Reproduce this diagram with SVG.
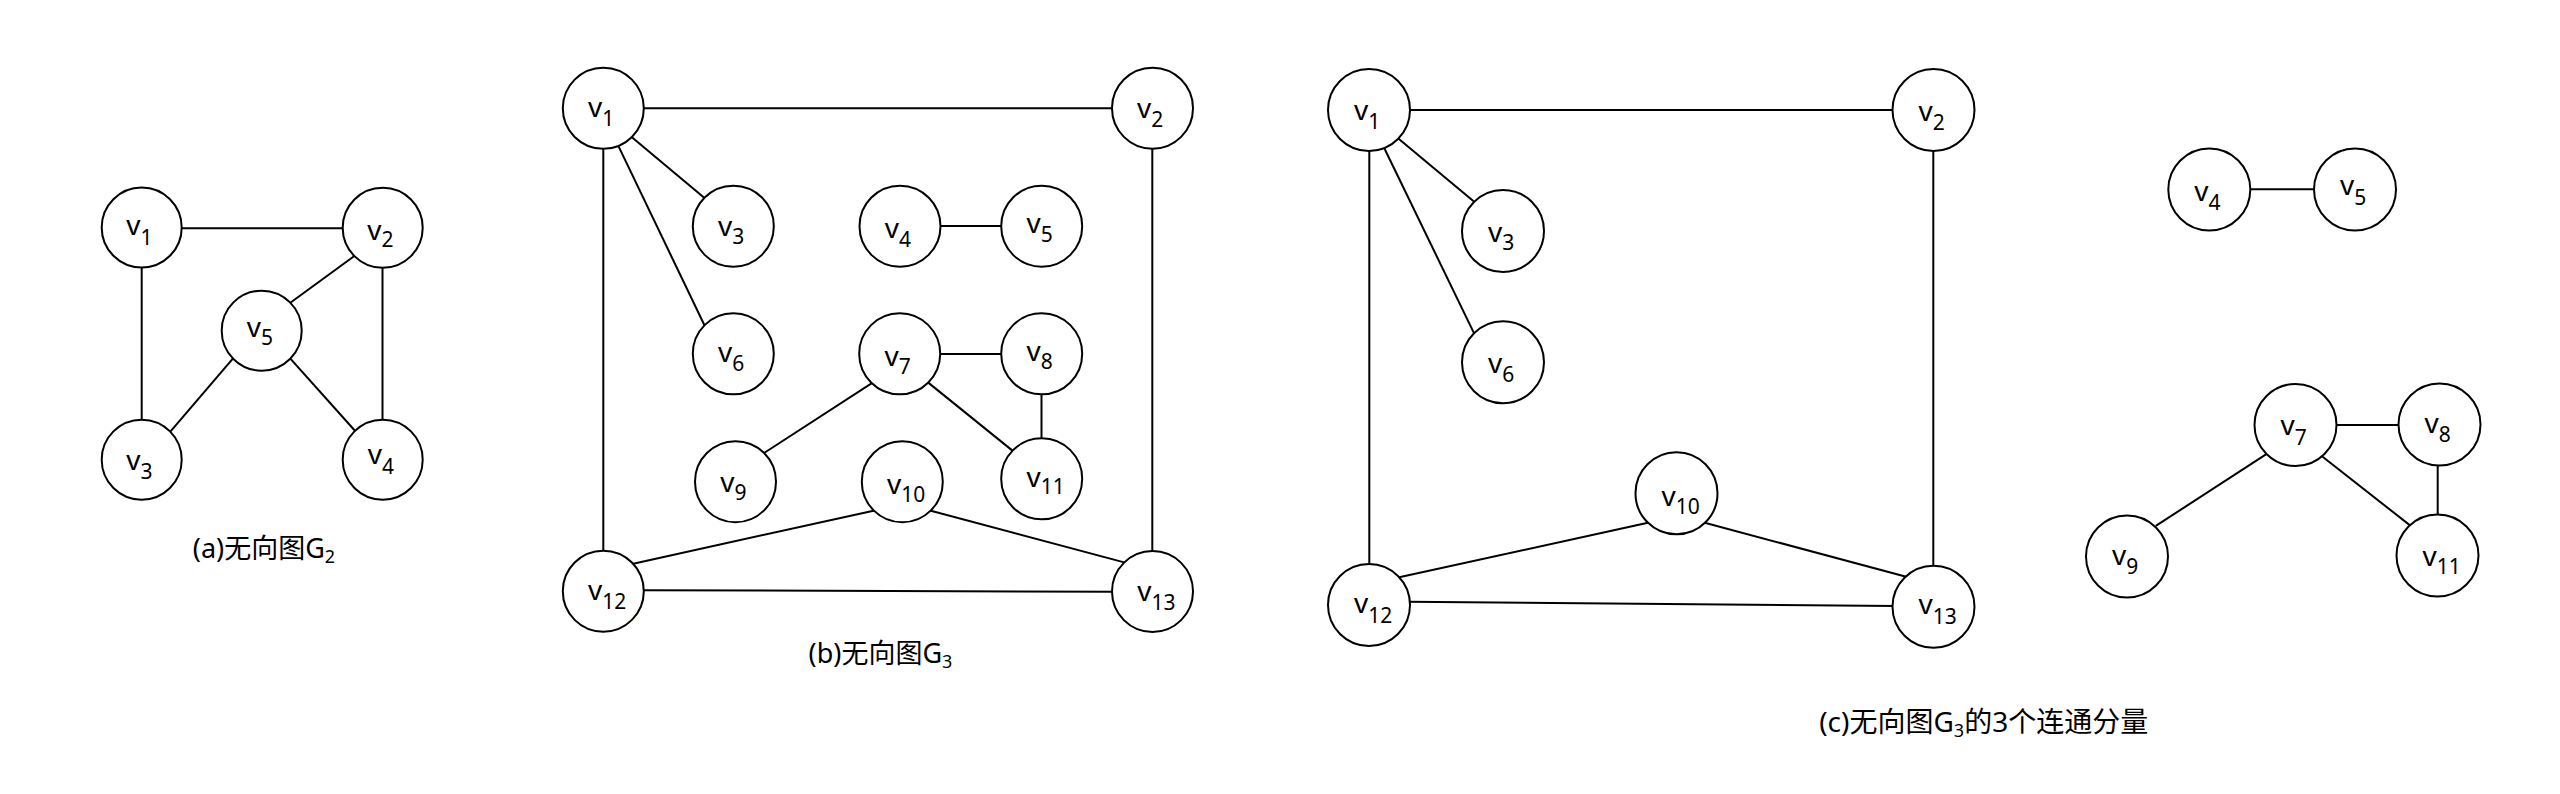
<svg xmlns="http://www.w3.org/2000/svg" width="2560" height="794" viewBox="0 0 2560 794">
<style>
.bg{fill:#fff}
.e{stroke:#000;stroke-width:2;fill:none;stroke-linecap:butt}
.n{fill:#fff;stroke:#000;stroke-width:2}
.lbl{font-family:"Noto Sans","Open Sans","Liberation Sans",sans-serif;font-size:28px;fill:#000}
.sub{font-size:21px}
.cap{font-family:"Noto Sans","Noto Sans CJK SC",sans-serif;font-size:27px;fill:#000}
.capsub{font-size:18px}
</style>
<rect class="bg" x="0" y="0" width="2560" height="794"/>
<g id="connectors">
<!-- graph a -->
<line class="e" x1="178" y1="228.3" x2="346" y2="228.3"/>
<line class="e" x1="141.7" y1="264" x2="141.7" y2="423"/>
<line class="e" x1="382.5" y1="264" x2="382.5" y2="423"/>
<line class="e" x1="355.7" y1="255" x2="289.3" y2="303.5"/>
<line class="e" x1="233.7" y1="357.7" x2="169.7" y2="432.3"/>
<line class="e" x1="289.7" y1="357.8" x2="357" y2="433"/>
<!-- graph b -->
<line class="e" x1="640" y1="108.3" x2="1116" y2="108.3"/>
<line class="e" x1="631" y1="136.4" x2="706.3" y2="199.6"/>
<line class="e" x1="618.7" y1="146.6" x2="705.3" y2="327"/>
<line class="e" x1="603.3" y1="146" x2="603.3" y2="554"/>
<line class="e" x1="1152.3" y1="146" x2="1152.3" y2="554"/>
<line class="e" x1="937" y1="226" x2="1004" y2="226"/>
<line class="e" x1="937" y1="354" x2="1004" y2="354"/>
<line class="e" x1="874.2" y1="381.7" x2="762.5" y2="454"/>
<line class="e" x1="926.7" y1="381.4" x2="1014" y2="451.9"/>
<line class="e" x1="1041.5" y1="391" x2="1041.5" y2="441"/>
<line class="e" x1="874.6" y1="510.4" x2="632.1" y2="564"/>
<line class="e" x1="929" y1="510.3" x2="1127" y2="563.1"/>
<line class="e" x1="640" y1="590.2" x2="1116" y2="591.8"/>
<!-- graph c -->
<line class="e" x1="1406" y1="110" x2="1896" y2="110"/>
<line class="e" x1="1397.7" y1="138.1" x2="1476.3" y2="203.6"/>
<line class="e" x1="1384.7" y1="149" x2="1474.6" y2="334.4"/>
<line class="e" x1="1369.3" y1="148" x2="1369.3" y2="568"/>
<line class="e" x1="1933.3" y1="148" x2="1933.3" y2="570"/>
<line class="e" x1="1647.9" y1="522.7" x2="1398.1" y2="577.6"/>
<line class="e" x1="1703.8" y1="522.5" x2="1906.2" y2="576.8"/>
<line class="e" x1="1407" y1="601.8" x2="1896" y2="606"/>
<line class="e" x1="2247" y1="189.3" x2="2317" y2="189.3"/>
<line class="e" x1="2334" y1="425" x2="2402" y2="425"/>
<line class="e" x1="2267.5" y1="453.4" x2="2155.8" y2="525.9"/>
<line class="e" x1="2321" y1="455.5" x2="2410.7" y2="525.9"/>
<line class="e" x1="2437.7" y1="463" x2="2437.7" y2="517"/>
</g>
<!-- graph a nodes -->
<g id="a-v1"><circle class="n" cx="141.7" cy="227.5" r="40"/><text class="lbl" x="126.2" y="235"><tspan>v</tspan><tspan class="sub" dy="10">1</tspan></text></g>
<g id="a-v2"><circle class="n" cx="382.7" cy="227.8" r="40"/><text class="lbl" x="367.2" y="239.8"><tspan>v</tspan><tspan class="sub" dy="7.5">2</tspan></text></g>
<g id="a-v5"><circle class="n" cx="261.7" cy="330.7" r="40"/><text class="lbl" x="246.7" y="337.4"><tspan>v</tspan><tspan class="sub" dy="7.6">5</tspan></text></g>
<g id="a-v3"><circle class="n" cx="141.7" cy="459.7" r="40"/><text class="lbl" x="126.2" y="470"><tspan>v</tspan><tspan class="sub" dy="9">3</tspan></text></g>
<g id="a-v4"><circle class="n" cx="382.7" cy="459.7" r="40"/><text class="lbl" x="367.7" y="464"><tspan>v</tspan><tspan class="sub" dy="10">4</tspan></text></g>
<!-- graph b nodes -->
<g id="b-v1"><circle class="n" cx="603.3" cy="108.3" r="40.5"/><text class="lbl" x="588" y="117.3"><tspan>v</tspan><tspan class="sub" dy="8.7">1</tspan></text></g>
<g id="b-v2"><circle class="n" cx="1152.5" cy="108.2" r="40.5"/><text class="lbl" x="1137" y="118.2"><tspan>v</tspan><tspan class="sub" dy="8.5">2</tspan></text></g>
<g id="b-v3"><circle class="n" cx="733.3" cy="226.2" r="40.5"/><text class="lbl" x="718" y="235.7"><tspan>v</tspan><tspan class="sub" dy="8.5">3</tspan></text></g>
<g id="b-v4"><circle class="n" cx="900" cy="226.2" r="40.5"/><text class="lbl" x="884.7" y="238.2"><tspan>v</tspan><tspan class="sub" dy="8.5">4</tspan></text></g>
<g id="b-v5"><circle class="n" cx="1041.7" cy="226.2" r="40.5"/><text class="lbl" x="1026.4" y="233.2"><tspan>v</tspan><tspan class="sub" dy="8.5">5</tspan></text></g>
<g id="b-v6"><circle class="n" cx="733.3" cy="353.8" r="40.5"/><text class="lbl" x="718" y="362.3"><tspan>v</tspan><tspan class="sub" dy="8.5">6</tspan></text></g>
<g id="b-v7"><circle class="n" cx="899.7" cy="353.8" r="40.5"/><text class="lbl" x="884.4" y="365.8"><tspan>v</tspan><tspan class="sub" dy="8.5">7</tspan></text></g>
<g id="b-v8"><circle class="n" cx="1041.7" cy="353.8" r="40.5"/><text class="lbl" x="1026.4" y="360.8"><tspan>v</tspan><tspan class="sub" dy="8.5">8</tspan></text></g>
<g id="b-v9"><circle class="n" cx="735.5" cy="481.7" r="40.5"/><text class="lbl" x="720.2" y="491.7"><tspan>v</tspan><tspan class="sub" dy="8">9</tspan></text></g>
<g id="b-v10"><circle class="n" cx="902.3" cy="481.7" r="40.5"/><text class="lbl" x="887" y="493.7"><tspan>v</tspan><tspan class="sub" dy="8.5">10</tspan></text></g>
<g id="b-v11"><circle class="n" cx="1041.7" cy="478.8" r="40.5"/><text class="lbl" x="1026.4" y="486.6"><tspan>v</tspan><tspan class="sub" dy="7.7">11</tspan></text></g>
<g id="b-v12"><circle class="n" cx="603.3" cy="591.2" r="40.5"/><text class="lbl" x="588" y="600.2"><tspan>v</tspan><tspan class="sub" dy="9">12</tspan></text></g>
<g id="b-v13"><circle class="n" cx="1152.5" cy="591.5" r="40.5"/><text class="lbl" x="1137.2" y="600.5"><tspan>v</tspan><tspan class="sub" dy="9">13</tspan></text></g>
<!-- graph c nodes -->
<g id="c-v1"><circle class="n" cx="1369" cy="110" r="41"/><text class="lbl" x="1354" y="120"><tspan>v</tspan><tspan class="sub" dy="9">1</tspan></text></g>
<g id="c-v2"><circle class="n" cx="1933.5" cy="110" r="41"/><text class="lbl" x="1918.5" y="121"><tspan>v</tspan><tspan class="sub" dy="9">2</tspan></text></g>
<g id="c-v3"><circle class="n" cx="1503" cy="231" r="41"/><text class="lbl" x="1488" y="241.7"><tspan>v</tspan><tspan class="sub" dy="8.3">3</tspan></text></g>
<g id="c-v6"><circle class="n" cx="1503" cy="362.2" r="41"/><text class="lbl" x="1488" y="373.2"><tspan>v</tspan><tspan class="sub" dy="8.5">6</tspan></text></g>
<g id="c-v10"><circle class="n" cx="1676.5" cy="493.3" r="41"/><text class="lbl" x="1661.5" y="505.8"><tspan>v</tspan><tspan class="sub" dy="8.5">10</tspan></text></g>
<g id="c-v12"><circle class="n" cx="1369" cy="605" r="41"/><text class="lbl" x="1354" y="613"><tspan>v</tspan><tspan class="sub" dy="10">12</tspan></text></g>
<g id="c-v13"><circle class="n" cx="1933.5" cy="606.7" r="41"/><text class="lbl" x="1918.5" y="614.4"><tspan>v</tspan><tspan class="sub" dy="10">13</tspan></text></g>
<g id="c-v4"><circle class="n" cx="2209.3" cy="189.5" r="41"/><text class="lbl" x="2194.3" y="201.2"><tspan>v</tspan><tspan class="sub" dy="9">4</tspan></text></g>
<g id="c-v5"><circle class="n" cx="2355" cy="189.5" r="41"/><text class="lbl" x="2340" y="194.5"><tspan>v</tspan><tspan class="sub" dy="10.7">5</tspan></text></g>
<g id="c-v7"><circle class="n" cx="2295.5" cy="425" r="41"/><text class="lbl" x="2280.5" y="435"><tspan>v</tspan><tspan class="sub" dy="10">7</tspan></text></g>
<g id="c-v8"><circle class="n" cx="2439.5" cy="424.5" r="41"/><text class="lbl" x="2424.5" y="432.5"><tspan>v</tspan><tspan class="sub" dy="9">8</tspan></text></g>
<g id="c-v9"><circle class="n" cx="2127" cy="556.5" r="41"/><text class="lbl" x="2112" y="564.8"><tspan>v</tspan><tspan class="sub" dy="9">9</tspan></text></g>
<g id="c-v11"><circle class="n" cx="2437.5" cy="555.5" r="41"/><text class="lbl" x="2422.5" y="565.5"><tspan>v</tspan><tspan class="sub" dy="8">11</tspan></text></g>
<!-- captions -->
<g id="captions">
<text class="cap" x="264" y="558" text-anchor="middle">(a)无向图G<tspan class="capsub" dy="5">2</tspan></text>
<text class="cap" x="880.5" y="663" text-anchor="middle">(b)无向图G<tspan class="capsub" dy="5">3</tspan></text>
<text class="cap" x="1983.7" y="732" text-anchor="middle" style="font-size:28px">(c)无向图G<tspan class="capsub" dy="5">3</tspan><tspan dy="-5">的3个连通分量</tspan></text>
</g>
</svg>
